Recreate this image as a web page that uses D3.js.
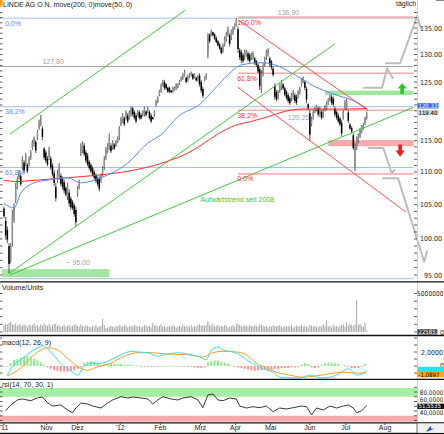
<!DOCTYPE html>
<html>
<head>
<meta charset="utf-8">
<script src="https://cdn.jsdelivr.net/npm/d3@7"></script>
<style>
  body { margin: 0; background: #fff; }
  svg { display: block; font-family: "Liberation Sans", Arial, sans-serif; font-size: 7px; }
  .narrow { font-family: "Liberation Sans Narrow", "Arial Narrow", "DejaVu Sans Condensed", sans-serif; }
</style>
</head>
<body>
<svg id="chart" width="444" height="434"></svg>
<script>
// daily candles, Oct 2011 - Jul 2012
var open = [
104.4,102.6,101.3,99.0,97.1,99.8,102.8,105.7,107.6,109.1,
109.4,110.7,111.5,111.2,111.1,111.2,112.2,113.8,114.4,114.8,
115.5,117.1,117.8,117.0,113.7,113.1,112.1,112.3,112.1,111.0,
109.8,107.7,108.6,109.3,109.4,108.9,108.4,107.5,106.2,106.8,
105.9,105.4,104.9,104.2,106.5,107.5,112.8,113.3,114.2,113.1,
112.6,111.6,111.1,110.6,110.0,109.5,109.0,108.9,108.6,109.6,
110.7,112.3,113.3,114.0,114.2,113.8,114.4,114.2,114.8,115.5,
117.7,118.2,118.7,118.8,119.2,118.8,119.4,120.4,119.8,119.2,
119.3,119.8,119.3,119.3,119.4,119.9,119.8,119.8,119.2,118.9,
119.3,121.0,121.5,122.7,123.4,124.4,125.0,124.6,124.0,124.0,
123.5,123.3,123.5,123.9,124.1,124.7,125.3,125.6,126.2,125.8,
125.3,125.9,126.1,126.4,125.8,125.8,125.3,126.2,125.0,123.8,
125.2,125.6,130.0,133.7,133.6,134.2,133.8,133.1,132.5,131.9,
131.2,130.6,131.8,132.8,133.7,133.6,133.1,134.0,134.9,135.6,
134.8,130.8,130.4,129.9,129.4,129.9,130.2,129.9,129.3,129.3,
129.3,128.8,128.1,127.3,123.7,126.4,128.2,129.4,130.0,129.3,
128.7,127.4,124.3,123.2,122.2,123.4,124.0,124.6,123.9,123.3,
122.7,122.2,121.9,122.2,122.7,122.4,122.5,123.1,124.5,125.0,
125.0,123.8,121.1,119.6,117.7,118.8,119.8,120.1,120.4,119.4,
119.8,119.1,120.1,120.4,121.2,121.8,122.4,122.1,120.4,119.8,
119.2,118.7,118.0,118.8,120.5,120.5,119.7,117.7,117.1,115.9,
110.6,113.9,114.9,115.7,116.5,117.0,117.9,118.7];
var high = [
104.7,103.2,101.8,99.4,99.4,104.2,105.2,108.3,109.3,110.3,
109.8,112.5,111.9,113.0,111.4,112.5,113.5,115.1,115.7,115.1,
116.8,118.5,119.3,117.4,114.0,113.5,112.5,114.0,112.5,111.4,
110.3,108.3,110.3,111.4,109.8,109.3,108.8,107.8,108.3,107.3,
106.2,105.7,105.2,104.7,107.8,108.8,114.6,114.9,114.6,113.5,
113.0,111.9,111.4,110.9,110.3,109.8,109.3,109.3,109.8,110.9,
112.5,114.0,114.6,116.2,114.6,115.1,114.6,115.1,115.7,117.4,
119.0,119.6,119.0,120.1,119.6,120.1,120.7,120.7,120.1,119.6,
120.1,120.1,119.6,120.1,120.7,120.1,120.7,120.1,119.6,119.0,
120.1,121.9,122.5,123.6,124.8,125.4,125.4,124.8,124.2,124.2,
123.6,124.2,124.2,124.8,124.8,125.4,126.0,126.6,127.2,126.0,
126.3,126.6,126.9,126.6,126.6,126.0,126.3,126.6,125.4,124.2,
126.0,126.6,134.0,134.0,134.7,134.3,134.0,133.4,132.7,132.1,
131.5,132.1,133.4,134.3,135.3,134.0,134.7,135.3,135.9,136.9,
135.3,131.2,130.9,130.3,130.9,130.9,130.6,130.3,130.3,130.6,
129.6,129.0,128.4,127.8,127.2,128.4,129.6,130.9,131.2,129.6,
129.0,127.8,124.8,123.6,123.6,124.8,125.4,124.8,124.2,123.6,
123.1,122.5,123.1,123.6,123.1,122.8,123.6,124.2,125.7,126.0,
125.4,124.2,121.3,120.1,119.0,120.1,120.7,121.0,120.7,120.7,
120.1,120.4,121.0,121.6,122.2,122.8,122.8,122.5,120.7,120.1,
119.6,119.0,118.5,120.1,121.9,122.2,120.1,117.9,117.4,116.2,
114.6,115.7,116.2,117.1,117.6,117.9,119.0,119.9];
var low = [
103.0,99.9,99.4,95.2,96.6,98.9,102.3,105.2,107.3,108.8,
107.8,110.3,109.8,110.9,109.8,110.9,111.9,113.5,114.0,113.0,
115.1,116.8,117.4,115.1,111.9,111.4,110.9,111.9,110.3,109.3,
107.8,105.5,108.3,108.8,107.8,107.3,106.7,106.2,105.7,104.7,
104.2,104.2,103.2,101.8,106.2,107.3,112.5,113.0,112.5,111.4,
110.9,110.3,109.8,109.3,108.8,108.3,107.8,107.0,108.3,109.3,
110.3,111.9,113.0,113.5,113.0,113.5,113.5,114.0,114.6,115.1,
117.4,117.9,117.4,118.5,117.9,118.5,119.0,119.0,118.5,117.9,
119.0,118.5,118.5,119.0,119.0,119.0,119.6,118.5,117.9,118.5,
119.0,120.7,121.3,122.5,123.1,124.2,123.6,123.6,123.1,123.1,
123.1,123.1,123.4,123.6,123.9,124.5,125.1,125.4,126.0,124.8,
125.1,125.7,126.0,125.4,125.7,125.1,125.1,124.2,123.1,122.2,
125.1,125.4,129.3,132.1,133.4,133.4,132.7,132.1,131.5,130.9,
130.0,130.3,131.5,132.4,133.4,131.5,132.7,133.7,134.7,135.3,
130.3,129.0,128.4,128.4,129.0,129.6,128.7,128.4,129.0,129.0,
128.1,127.8,126.6,123.6,123.1,126.0,127.8,129.0,129.6,127.8,
127.2,126.0,121.9,121.6,121.9,123.1,123.6,123.6,122.5,121.9,
121.3,121.0,121.6,121.9,121.3,121.0,122.2,122.8,124.2,124.8,
123.6,121.3,120.1,114.9,117.4,118.5,119.6,119.9,119.0,119.0,
118.5,118.8,119.9,120.1,121.0,121.6,121.0,120.7,119.0,118.5,
117.9,117.4,115.7,118.5,120.1,120.1,117.9,116.8,116.2,113.5,
110.1,113.5,114.6,115.4,116.2,116.8,117.6,118.5];
var close = [
103.3,100.5,99.9,96.5,99.0,103.4,104.7,107.7,108.9,110.0,
108.1,112.0,110.2,112.6,110.1,112.1,113.2,114.8,115.4,113.4,
116.5,118.1,118.9,115.6,112.3,111.8,111.2,113.6,110.7,109.7,
108.3,106.0,109.9,110.9,108.2,107.7,107.1,106.5,107.8,105.2,
104.6,104.5,103.6,102.4,107.5,108.5,114.2,114.5,112.8,111.8,
111.2,110.6,110.1,109.6,109.1,108.6,108.1,107.4,109.5,110.5,
112.0,113.6,114.2,115.6,113.3,114.8,113.7,114.9,115.5,117.0,
118.7,119.2,117.7,119.8,118.2,119.8,120.4,119.4,118.8,118.2,
119.9,118.8,118.7,119.9,120.4,119.3,120.5,118.8,118.2,118.6,
119.9,121.6,122.2,123.4,124.4,125.1,124.0,123.9,123.3,123.3,
123.2,124.0,124.0,124.6,124.6,125.2,125.8,126.3,126.9,125.0,
126.0,126.4,126.7,125.6,126.4,125.3,126.0,124.6,123.5,122.6,
125.8,126.3,133.4,132.5,134.4,133.6,133.0,132.3,131.7,131.1,
130.3,131.7,133.0,134.0,134.9,132.0,134.3,135.0,135.7,136.5,
131.0,129.5,128.9,128.8,130.5,130.6,129.1,128.8,130.0,130.3,
128.4,128.1,126.9,124.3,126.5,128.0,129.3,130.5,130.9,128.2,
127.6,126.3,122.4,122.0,123.3,124.4,125.0,123.9,122.8,122.2,
121.7,121.3,122.8,123.3,121.7,121.4,123.3,123.9,125.4,125.7,
124.0,121.9,120.4,116.0,118.7,119.8,120.5,120.8,119.4,120.4,
118.8,120.1,120.8,121.3,121.9,122.5,121.4,121.1,119.4,118.8,
118.2,117.7,116.2,119.8,121.5,121.8,118.3,117.0,116.5,113.8,
114.2,115.3,115.9,116.8,117.4,117.6,118.8,119.4];
// volume in millions
var volume = [
0.9,1.1,1.0,1.2,1.3,1.0,0.9,1.1,0.8,1.0,
0.9,0.8,1.0,0.9,0.7,1.0,0.8,0.9,1.1,0.8,
0.9,0.7,1.0,0.8,1.1,0.9,0.8,1.0,0.7,0.9,
1.0,1.1,0.8,0.9,0.7,0.8,0.9,0.7,0.8,0.9,
0.7,0.8,0.9,1.0,0.8,0.7,1.0,0.8,0.7,0.9,
0.8,0.7,0.6,0.8,0.7,0.9,0.6,0.7,0.8,1.7,
0.9,0.5,0.6,0.7,0.8,0.7,0.6,0.8,0.7,0.9,
0.8,0.7,0.9,0.8,0.6,0.7,0.8,0.7,0.9,0.8,
0.7,0.8,0.6,0.7,0.9,0.8,0.7,0.8,0.6,1.2,
0.8,0.9,0.7,0.8,1.0,0.7,0.8,0.6,0.7,0.8,
0.7,0.9,0.8,0.6,0.7,0.8,0.7,0.9,0.8,0.7,
0.8,0.7,0.9,0.6,0.8,0.7,0.9,1.0,0.8,0.9,
0.8,0.9,1.4,0.9,0.8,1.1,0.7,0.8,0.9,0.7,
0.8,0.7,0.9,0.8,0.6,0.7,0.8,0.9,0.7,1.0,
1.1,0.9,0.8,0.7,0.9,0.8,0.7,0.9,0.8,0.7,
0.9,0.8,0.7,1.0,0.9,0.8,0.7,0.8,0.6,0.8,
0.7,0.9,0.8,0.7,0.8,0.9,0.7,0.6,0.8,0.7,
0.8,0.7,0.9,0.6,0.7,0.8,0.7,0.8,0.9,0.7,
0.8,0.7,0.6,0.9,0.8,0.7,0.8,0.7,0.6,0.8,
0.7,1.0,0.8,1.5,0.7,0.8,0.6,0.9,0.7,0.8,
0.6,0.8,0.9,1.0,0.7,1.3,0.8,1.1,0.9,0.8,
1.0,4.2,0.9,1.1,0.8,0.7,1.2,0.2];

// moving averages [day, value]
var ma50 = [[0,105.2],[6,104.5],[10,106.7],[18,108.3],[28,108.8],[38,109.1],[46,108.3],[58,109.1],[74,111.4],[86,114.6],[94,116.0],[104,119.0],[118,121.3],[126,123.8],[134,126.3],[142,128.1],[154,128.5],[162,128.1],[174,126.3],[186,124.2],[198,122.8],[210,121.6],[217,120.4]];
var ma200 = [[0,108.7],[8,108.5],[18,108.7],[38,109.1],[56,109.5],[78,110.3],[98,111.7],[110,113.0],[118,114.3],[128,116.1],[138,117.5],[148,118.2],[158,119.0],[168,119.9],[178,120.3],[192,120.3],[206,120.3],[217,120.4]];

// macd(12,26,9)
var macdLine = [[2,-1.3],[5,-0.1],[10,0.9],[16,2.0],[20,2.6],[23,2.9],[28,2.0],[32,0.9],[35,0.1],[40,-0.7],[44,-1.3],[47,-0.3],[52,0.4],[58,0.4],[64,0.9],[70,1.6],[76,2.1],[80,2.0],[86,1.9],[92,1.4],[98,1.7],[104,1.9],[110,1.7],[116,1.4],[121,0.9],[124,2.3],[128,2.7],[131,2.3],[137,2.0],[141,1.6],[145,0.9],[151,0.1],[155,-0.4],[161,-0.9],[165,-1.6],[171,-1.7],[177,-1.7],[183,-1.3],[189,-1.7],[195,-1.6],[201,-1.0],[206,-0.4],[211,-1.3],[215,-1.0],[217,-0.7]];
var signalLine = [[2,-1.4],[10,-0.3],[17,1.4],[26,2.6],[32,2.3],[38,1.1],[44,-0.1],[50,-0.6],[56,-0.1],[64,0.4],[71,1.3],[80,1.9],[88,1.9],[98,1.7],[110,1.6],[119,1.3],[125,1.9],[131,2.1],[139,2.0],[145,1.6],[151,0.4],[157,-0.3],[163,-0.9],[171,-1.3],[179,-1.6],[187,-1.4],[195,-1.1],[203,-0.9],[211,-1.0],[217,-1.0]];
// histogram, every second day
var macdHist = [0,0,0.4,0.9,1.0,1.2,1.3,1.4,1.3,1.0,
0.8,0.5,0.2,-0.2,-0.4,-0.6,-0.7,-0.8,-0.8,-0.8,
-0.7,-0.6,-0.4,-0.2,0.5,0.6,0.7,0.6,0.4,-0.1,
0.3,0.4,0.4,0.3,0.3,0.3,0.2,0.2,0.2,0.1,
0.1,-0.1,-0.1,-0.1,-0.1,-0.1,-0.1,0,0,0.05,
0.05,0,0,-0.05,0,-0.1,-0.1,-0.2,-0.3,-0.3,
-0.2,0.5,0.7,0.8,0.8,0.6,0.5,0.3,0.1,-0.1,
-0.2,-0.3,-0.4,-0.5,-0.6,-0.7,-0.6,-0.6,-0.5,-0.5,
-0.5,-0.4,-0.4,-0.3,-0.3,-0.3,-0.2,-0.2,-0.1,0.2,
0.4,0.3,-0.2,-0.3,-0.2,0.2,0.4,0.5,0.5,0.4,
0.3,0.1,0.1,-0.1,-0.3,-0.3,-0.3,-0.1,0.3];

// rsi(14)
var rsiLine = [[1,40.6],[4,52.6],[8,63.2],[11,65.3],[16,61.7],[20,67.4],[23,69.5],[26,57.5],[29,50.5],[34,52.6],[38,42.1],[41,36.4],[43,46.3],[46,56.8],[50,54.7],[53,50.5],[58,46.3],[62,56.8],[65,63.2],[70,70.1],[74,67.4],[77,69.5],[82,67.4],[86,65.3],[89,54.7],[92,63.2],[95,70.1],[100,65.3],[104,63.2],[107,67.4],[112,70.1],[116,63.2],[119,47.0],[122,73.7],[125,75.8],[128,63.2],[131,61.7],[135,67.4],[139,65.3],[141,50.5],[145,46.3],[149,49.1],[153,47.0],[157,50.5],[161,38.5],[165,46.3],[169,44.2],[173,47.0],[178,50.5],[181,49.1],[184,31.6],[187,46.3],[191,42.1],[195,50.5],[199,46.3],[203,50.5],[206,52.6],[209,46.3],[211,36.4],[214,40.6],[217,51.6]];

var monthLabels = ["'11", "Nov", "Dez", "'12", "Feb", "Mrz", "Apr", "Mai", "Jun", "Jul", "Aug"];
var monthDays = [0, 25.5, 44, 69.5, 93.5, 117.5, 138.5, 159.5, 183, 204.5, 228];
// 120.00 sits under the value boxes, so it is not printed
var priceTicks = [95, 100, 105, 110, 115, 125, 130, 135];

// drawn annotations, [day, price]
var greenTrends = [[[3.6, 116.1], [108.6, 138.5]], [[3.6, 95.3], [198, 132.0]], [[3.6, 95.0], [244.8, 120.6]]];
var redTrends = [[[140.4, 136.5], [217.8, 120.1]], [[139.8, 124.1], [240.5, 103.9]]];
var blueFibPrices = [136.9, 120.7, 110.7, 94.5];
var blueFibLabels = ["0,0%", "38,2%", "61,8%", ""];
var redFibPrices = [137.1, 126.6, 120.1, 109.7];
var redFibLabels = ["100,0%", "61,8%", "38,2%", "0,0%"];
var greenZones = [[[-1.2, 94.7], [63, 95.8]], [[192, 122.7], [245, 123.5]]];
var redZones = [[[194, 114.1], [245, 115.1]]];
var projections = [
  [[214.8, 124.0], [226.2, 124.0], [229.2, 127.5], [232.8, 125.6]],
  [[228, 128.4], [237, 128.4], [247.2, 137.3], [249.6, 134.8]],
  [[217.6, 113.8], [226.9, 113.8], [232, 109.8], [234, 110.4]],
  [[226.3, 109.0], [235.8, 109.0], [251.4, 96.8], [253.2, 98.4]]
];

var svg = d3.select("#chart");
var axisX = 417;

var x = d3.scaleLinear().domain([0, 217]).range([4, 366.7]);
var y = d3.scaleLog().domain([95, 135]).range([275, 28]);
var yVol = d3.scaleLinear().domain([0, 5]).range([332, 293.5]);
var yMacd = d3.scaleLinear().domain([0, 2]).range([366, 352]);
var yRsi = d3.scaleLinear().domain([40, 80]).range([411, 392]);

var defs = svg.append("defs");
function clip(id, y0, y1) {
	defs.append("clipPath").attr("id", id)
		.append("rect").attr("x", 0).attr("y", y0).attr("width", axisX).attr("height", y1 - y0);
}
clip("cMain", 0, 281);
clip("cVol", 282, 335);
clip("cMacd", 336, 379);
clip("cRsi", 380, 422);

var main = svg.append("g").attr("clip-path", "url(#cMain)");

// zones
main.selectAll(".gz").data(greenZones).join("rect")
	.attr("x", function(d) { return x(d[0][0]); })
	.attr("width", function(d) { return x(d[1][0]) - x(d[0][0]); })
	.attr("y", function(d) { return y(d[1][1]); })
	.attr("height", function(d) { return y(d[0][1]) - y(d[1][1]); })
	.attr("fill", "#a3e6a0");
main.selectAll(".rz").data(redZones).join("rect")
	.attr("x", function(d) { return x(d[0][0]); })
	.attr("width", function(d) { return x(d[1][0]) - x(d[0][0]); })
	.attr("y", function(d) { return y(d[1][1]); })
	.attr("height", function(d) { return y(d[0][1]) - y(d[1][1]); })
	.attr("fill", "#f7aaaa");

// horizontal levels
main.selectAll(".bf").data(blueFibPrices).join("line")
	.attr("x1", x(-3)).attr("x2", x(245))
	.attr("y1", function(d) { return y(d); }).attr("y2", function(d) { return y(d); })
	.attr("stroke", "#a9bdfb").attr("stroke-width", 1);
main.append("line")
	.attr("x1", x(-3)).attr("x2", x(245)).attr("y1", y(127.8)).attr("y2", y(127.8))
	.attr("stroke", "#a6a6a6").attr("stroke-width", 1);
main.selectAll(".rf").data(redFibPrices).join("line")
	.attr("x1", x(140)).attr("x2", x(245))
	.attr("y1", function(d) { return y(d); }).attr("y2", function(d) { return y(d); })
	.attr("stroke", function(d, i) { return i == 1 ? "#f08080" : "#f7b0b0"; })
	.attr("stroke-width", function(d, i) { return i == 1 ? 1 : 1.6; });

// candles
var candles = close.map(function(c, i) { return {i: i, o: open[i], h: high[i], l: low[i], c: c}; });
main.selectAll(".wick").data(candles).join("line")
	.attr("x1", function(d) { return x(d.i); }).attr("x2", function(d) { return x(d.i); })
	.attr("y1", function(d) { return y(d.h); }).attr("y2", function(d) { return y(d.l); })
	.attr("stroke", "#111").attr("stroke-width", 0.7);
main.selectAll(".body").data(candles).join("rect")
	.attr("x", function(d) { return x(d.i) - 0.75; })
	.attr("width", 1.5)
	.attr("y", function(d) { return y(Math.max(d.o, d.c)); })
	.attr("height", function(d) { return Math.max(0.7, Math.abs(y(d.o) - y(d.c))); })
	.attr("fill", function(d) { return d.c >= d.o ? "#8e8e8e" : "#000"; });

// moving averages
var maLine = d3.line().curve(d3.curveMonotoneX)
	.x(function(d) { return x(d[0]); }).y(function(d) { return y(d[1]); });
main.append("path").datum(ma200).attr("d", maLine)
	.attr("fill", "none").attr("stroke", "#ff2b2b").attr("stroke-width", 1);
main.append("path").datum(ma50).attr("d", maLine)
	.attr("fill", "none").attr("stroke", "#5a86ff").attr("stroke-width", 1);

// trend lines
var seg = d3.line().x(function(d) { return x(d[0]); }).y(function(d) { return y(d[1]); });
main.selectAll(".gt").data(greenTrends).join("path").attr("d", seg)
	.attr("fill", "none").attr("stroke", "#3ccb3c").attr("stroke-width", 1);
main.selectAll(".rt").data(redTrends).join("path").attr("d", seg)
	.attr("fill", "none").attr("stroke", "#ff3b3b").attr("stroke-width", 0.9);

// labels in main panel
main.selectAll(".bfl").data(blueFibPrices).join("text")
	.attr("x", 5).attr("y", function(d) { return y(d) + 7.5; })
	.attr("fill", "#5f86f2")
	.text(function(d, i) { return blueFibLabels[i]; });
main.selectAll(".rfl").data(redFibPrices).join("text")
	.attr("x", x(139.5)).attr("y", function(d) { return y(d) + 7.5; })
	.attr("fill", "#f03030")
	.text(function(d, i) { return redFibLabels[i]; });
main.append("text").attr("x", x(23)).attr("y", y(127.8) - 3).attr("fill", "#a0a0a0").text("127,80");
main.append("text").attr("x", x(163.8)).attr("y", y(137.1) - 2).attr("fill", "#a0a0a0").text("136,90");
main.append("text").attr("x", x(169.8)).attr("y", y(120.25) + 10.5).attr("fill", "#a0a0a0").text("120,25");
main.append("text").attr("x", x(37.3)).attr("y", y(95.8) - 4.5).attr("fill", "#a0a0a0").text("~ 95,00");
main.append("text").attr("x", x(117.6)).attr("y", y(105.4)).attr("fill", "#3cc43c").text("Aufwärtstrend seit 2008");

// projections and arrows (allowed past the axis)
var over = svg.append("g");
over.selectAll(".pj").data(projections).join("path").attr("d", seg)
	.attr("fill", "none").attr("stroke", "#bdbdbd").attr("stroke-width", 2)
	.attr("stroke-linejoin", "round");
function arrow(k, pTip, pEnd, color) {
	var cx = x(k), t = y(pTip), e = y(pEnd), dir = e > t ? 1 : -1;
	var h = Math.abs(e - t) * 0.5;
	var p = d3.path();
	p.moveTo(cx, t);
	p.lineTo(cx + 4.5, t + dir * h);
	p.lineTo(cx + 1.8, t + dir * h);
	p.lineTo(cx + 1.8, e);
	p.lineTo(cx - 1.8, e);
	p.lineTo(cx - 1.8, t + dir * h);
	p.lineTo(cx - 4.5, t + dir * h);
	p.closePath();
	over.append("path").attr("d", p.toString()).attr("fill", color);
}
arrow(238.2, 124.8, 122.9, "#1fcb1f");
arrow(237, 112.4, 114.4, "#ee1c1c");

// volume panel
var vol = svg.append("g").attr("clip-path", "url(#cVol)");
vol.selectAll("rect").data(volume).join("rect")
	.attr("x", function(d, i) { return x(i) - 0.5; })
	.attr("width", 1)
	.attr("y", function(d) { return yVol(d); })
	.attr("height", function(d) { return yVol(0) - yVol(d); })
	.attr("fill", "#a5a5a5");

// macd panel
var mp = svg.append("g").attr("clip-path", "url(#cMacd)");
mp.selectAll("rect").data(macdHist).join("rect")
	.attr("x", function(d, i) { return x(i * 2) - 1; })
	.attr("width", 2)
	.attr("y", function(d) { return Math.min(yMacd(d), yMacd(0)); })
	.attr("height", function(d) { return Math.max(0.8, Math.abs(yMacd(d) - yMacd(0))); })
	.attr("fill", function(d) { return d >= 0 ? "#8ee88e" : "#f79595"; });
var mLine = d3.line().curve(d3.curveMonotoneX)
	.x(function(d) { return x(d[0]); }).y(function(d) { return yMacd(d[1]); });
mp.append("path").datum(signalLine).attr("d", mLine)
	.attr("fill", "none").attr("stroke", "#ff9c1a").attr("stroke-width", 1);
mp.append("path").datum(macdLine).attr("d", mLine)
	.attr("fill", "none").attr("stroke", "#2fe0f0").attr("stroke-width", 1);

// rsi panel
var rp = svg.append("g").attr("clip-path", "url(#cRsi)");
rp.append("rect").attr("x", 0).attr("width", axisX).attr("y", yRsi(88.4)).attr("height", yRsi(70) - yRsi(88.4)).attr("fill", "#a6eea6");
rp.append("rect").attr("x", 0).attr("width", axisX).attr("y", yRsi(30)).attr("height", yRsi(17.5) - yRsi(30)).attr("fill", "#f9aaaa");
rp.append("path").datum(rsiLine)
	.attr("d", d3.line().x(function(d) { return x(d[0]); }).y(function(d) { return yRsi(d[1]); }))
	.attr("fill", "none").attr("stroke", "#222").attr("stroke-width", 0.9);

// panel titles
svg.append("rect").attr("x", 0).attr("y", 0).attr("width", 2.5).attr("height", 6.5).attr("fill", "#ff9a00");
svg.append("text").attr("x", 3).attr("y", 7).attr("fill", "#222").text("LINDE AG O.N. move(200, 0)move(50, 0)");
svg.append("text").attr("x", 396).attr("y", 6).attr("fill", "#222").text("täglich");
svg.append("line").attr("x1", 436).attr("x2", 444).attr("y1", 0.5).attr("y2", 0.5).attr("stroke", "#888");
svg.append("text").attr("x", 2).attr("y", 289.5).attr("fill", "#222").text("Volume/Units");
svg.append("text").attr("x", 2).attr("y", 344.5).attr("fill", "#222").text("macd(12, 26, 9)");
svg.append("text").attr("x", 2).attr("y", 386.5).attr("fill", "#222").text("rsi(14, 70, 30, 1)");

// axis ticks left/right
function ticks(vals, sc, y0, y1) {
	vals = vals.filter(function(v) { var p = sc(v); return p > y0 && p < y1; });
	svg.append("g").selectAll("line").data(vals).join("line")
		.attr("x1", 0).attr("x2", 2.5).attr("y1", function(d) { return sc(d); }).attr("y2", function(d) { return sc(d); })
		.attr("stroke", "#333").attr("stroke-width", 0.8);
	svg.append("g").selectAll("line").data(vals).join("line")
		.attr("x1", axisX - 3).attr("x2", axisX).attr("y1", function(d) { return sc(d); }).attr("y2", function(d) { return sc(d); })
		.attr("stroke", "#333").attr("stroke-width", 0.8);
}
ticks(d3.range(94, 139, 1), y, 8, 281);
ticks(d3.range(0, 6, 1), yVol, 283, 335);
ticks(d3.range(-2, 5, 1), yMacd, 337, 379);
ticks(d3.range(20, 91, 10), yRsi, 381, 422);

svg.append("line").attr("x1", axisX + 0.5).attr("x2", axisX + 0.5).attr("y1", 0).attr("y2", 422)
	.attr("stroke", "#f5cf7a").attr("stroke-width", 1);

// right axis labels
svg.append("g").selectAll("text").data(priceTicks).join("text")
	.attr("class", "narrow").attr("x", 442).attr("y", function(d) { return y(d) + 2.5; })
	.attr("text-anchor", "end").attr("fill", "#222")
	.text(function(d) { return d3.format(".2f")(d); });

function box(x0, yc, w, bg, fg, label) {
	svg.append("rect").attr("x", x0).attr("y", yc - 2.7).attr("width", w).attr("height", 5.4).attr("fill", bg);
	if (label) svg.append("text").attr("class", "narrow").attr("x", x0 + 1).attr("y", yc + 2.1)
		.attr("font-size", 6).attr("fill", fg).text(label);
}
box(417.5, 105.8, 21, "#3a66f0", "#fff", "120.33");
box(417.5, 112.6, 21, "#d6d6d6", "#000", "119.40");

svg.append("text").attr("class", "narrow").attr("x", 443.5).attr("y", yVol(5) + 2.5)
	.attr("text-anchor", "end").attr("font-size", 6.6).attr("fill", "#222").text("5000000");
svg.append("text").attr("class", "narrow").attr("x", 444).attr("y", yVol(0) + 2.5).attr("text-anchor", "end").attr("fill", "#222").text("0");
box(417.5, 331.8, 20, "#3a3a3a", "#fff", "225853");

svg.append("text").attr("class", "narrow").attr("x", 421).attr("y", yMacd(2) + 2.5).attr("fill", "#222").text("2,0000");
svg.append("text").attr("class", "narrow").attr("x", 444).attr("y", yMacd(0) + 1.5).attr("text-anchor", "end").attr("fill", "#222").text("0");
box(417.5, 369.5, 26.5, "#22e6f2", "#000", "");
box(417.5, 374.6, 26.5, "#ffa21e", "#000", "-1,0897");

var rsiLabels = [[80, "80,0000", 2.5], [60, "60,0000", 0.2], [40, "40,0000", 4.2]];
svg.append("g").selectAll("text").data(rsiLabels).join("text")
	.attr("class", "narrow").attr("x", 443.5).attr("y", function(d) { return yRsi(d[0]) + d[2]; })
	.attr("text-anchor", "end").attr("font-size", 6.4).attr("fill", "#222")
	.text(function(d) { return d[1]; });
box(417.5, 406.3, 26.5, "#111", "#fff", "51,5535");

// separators
[281.8, 335.5, 379.3, 422.8, 433.3].forEach(function(v) {
	svg.append("line").attr("x1", 0).attr("x2", 444).attr("y1", v).attr("y2", v)
		.attr("stroke", "#111").attr("stroke-width", 1.3);
});

// time axis
svg.append("g").selectAll("text").data(monthDays).join("text")
	.attr("x", function(d) { return x(d); }).attr("y", 430)
	.attr("text-anchor", "middle").attr("fill", "#222")
	.text(function(d, i) { return monthLabels[i]; });
svg.append("g").selectAll("line").data(monthDays).join("line")
	.attr("x1", function(d) { return x(d); }).attr("x2", function(d) { return x(d); })
	.attr("y1", 423.5).attr("y2", 425).attr("stroke", "#333");
svg.append("line").attr("x1", axisX).attr("x2", axisX).attr("y1", 423).attr("y2", 433).attr("stroke", "#666");
svg.append("rect").attr("x", 418).attr("y", 423.6).attr("width", 26).attr("height", 9.2).attr("fill", "#f2f2f2");
svg.append("path").attr("d", "M426,432 L430.5,426 L431.5,429 L435,428.5 Z").attr("fill", "#1f4fd0");
</script>
</body>
</html>
